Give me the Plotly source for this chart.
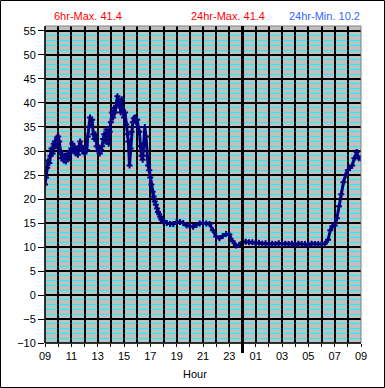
import plotly.graph_objects as go

# hours elapsed since 09:00
hours = [0.00, 0.08, 0.17, 0.25, 0.33, 0.42, 0.50, 0.58, 0.67, 0.75, 0.83, 0.92,
         1.00, 1.08, 1.17, 1.25, 1.33, 1.42, 1.50, 1.58, 1.67, 1.75, 1.83, 1.92,
         2.00, 2.08, 2.17, 2.25, 2.33, 2.42, 2.50, 2.58, 2.67, 2.75, 2.83, 2.92,
         3.00, 3.08, 3.17, 3.25, 3.33, 3.42, 3.50, 3.58, 3.67, 3.75, 3.83, 3.92,
         4.00, 4.08, 4.17, 4.25, 4.33, 4.42, 4.50, 4.58, 4.67, 4.75, 4.83, 4.92,
         5.00, 5.08, 5.17, 5.25, 5.33, 5.42, 5.50, 5.58, 5.67, 5.75, 5.83, 5.92,
         6.00, 6.08, 6.17, 6.25, 6.33, 6.42, 6.50, 6.58, 6.67, 6.75, 6.83, 6.92,
         7.00, 7.08, 7.17, 7.25, 7.33, 7.42, 7.50, 7.58, 7.67, 7.75, 7.83, 7.92,
         8.00, 8.08, 8.17, 8.25, 8.33, 8.42, 8.50, 8.58, 8.67, 8.75, 8.83, 8.92,
         9.00, 9.25, 9.50, 9.75, 10.00, 10.25, 10.50, 10.75, 11.00, 11.25, 11.50, 11.75,
         12.00, 12.25, 12.50, 12.75, 13.00, 13.25, 13.50, 13.75, 14.00, 14.25, 14.50, 14.75,
         15.00, 15.25, 15.50, 15.75, 16.00, 16.25, 16.50, 16.75, 17.00, 17.25, 17.50, 17.75,
         18.00, 18.25, 18.50, 18.75, 19.00, 19.25, 19.50, 19.75, 20.00, 20.25, 20.50, 20.75,
         21.00, 21.25, 21.50, 21.67, 21.83, 22.00, 22.17, 22.33, 22.50, 22.67, 22.83,
         23.00, 23.17, 23.33, 23.50, 23.67, 23.83, 24.00]

temps = [23.0, 24.5, 26.5, 28.0, 27.5, 29.0, 30.5, 29.5, 31.5, 32.0, 31.0, 32.8,
         33.0, 32.0, 30.0, 28.5, 29.2, 28.0, 29.0, 27.8, 28.5, 29.5, 28.5, 29.8,
         30.5, 31.5, 30.0, 30.8, 29.5, 30.0, 29.2, 31.0, 32.0, 31.0, 30.0, 30.5,
         29.5, 31.0, 30.2, 33.0, 35.0, 37.0, 35.5, 36.5, 33.5, 32.5, 33.5, 31.0,
         30.0, 30.8, 29.5, 30.2, 31.0, 32.5, 33.5, 32.0, 34.5, 33.0, 31.5, 34.0,
         36.0, 38.0, 37.0, 39.0, 38.0, 40.0, 41.4, 39.5, 40.5, 38.0, 40.8, 38.5,
         37.0, 38.0, 35.5, 33.5, 32.0, 27.0, 30.5, 34.0, 36.0, 36.8, 37.0, 36.0,
         36.5, 35.0, 34.0, 31.0, 29.0, 28.2, 31.5, 35.0, 33.0, 29.0, 27.0, 26.0,
         24.5, 23.0, 21.5, 20.5, 19.5, 18.8, 18.0, 17.3, 16.8, 16.3, 15.8, 15.5,
         15.3, 15.0, 14.8, 14.8, 15.2, 15.2, 15.0, 14.5, 14.3, 14.2, 14.6, 14.9,
         15.0, 14.9, 14.8, 13.5, 12.2, 11.8, 12.3, 12.7, 12.6, 11.2, 10.3, 10.4,
         11.0, 11.1, 11.0, 11.0, 10.8, 10.9, 10.7, 10.8, 10.6, 10.7, 10.6, 10.8,
         10.6, 10.7, 10.6, 10.7, 10.5, 10.7, 10.6, 10.6, 10.5, 10.7, 10.6, 10.6,
         10.6, 10.7, 11.5, 13.5, 14.3, 14.5, 16.0, 18.5, 21.0, 23.5, 25.0,
         26.0, 26.5, 27.0, 28.5, 29.8, 28.5, 28.5]

tick_hours = list(range(0, 25))
tick_labels = ["09", "", "11", "", "13", "", "15", "", "17", "", "19", "", "21", "",
               "23", "", "01", "", "03", "", "05", "", "07", "", "09"]

header_texts = ["6hr-Max. 41.4", "24hr-Max. 41.4", "24hr-Min. 10.2"]
header_colors = ["#FF0000", "#FF0000", "#3366FF"]
header_xpx = [87.5, 228, 324]

W, H = 385, 388
L, R, T, B = 45, 24, 26, 45
pw, ph = W - L - R, H - T - B

def px_x(x):
    return (x - L) / pw

def px_y(y):
    return (H - B - y) / ph

fig = go.Figure()
fig.add_trace(go.Scatter(
    x=hours, y=temps, mode="lines+markers",
    line=dict(color="#000080", width=3),
    marker=dict(symbol="cross", size=5, color="#000080"),
    hoverinfo="skip", showlegend=False))

font = dict(family="Liberation Sans, Arial, sans-serif", size=11, color="black")

fig.update_layout(
    width=W, height=H,
    margin=dict(l=L, r=R, t=T, b=B),
    paper_bgcolor="white", plot_bgcolor="#C0C0C0",
    font=font,
    xaxis=dict(range=[0, 24], tickmode="array", tickvals=tick_hours, ticktext=tick_labels,
               showgrid=True, gridcolor="black", gridwidth=1.5, zeroline=False,
               ticks="outside", ticklen=3, tickcolor="black", tickwidth=1,
               showline=False, tickfont=font, fixedrange=True),
    yaxis=dict(range=[-10, 56.04], tickmode="linear", tick0=-10, dtick=5,
               showgrid=True, gridcolor="black", gridwidth=1.5, zeroline=False,
               ticks="outside", ticklen=6, tickcolor="black", tickwidth=1,
               showline=False, tickfont=font,
               minor=dict(dtick=1, tick0=0, showgrid=True, gridcolor="#00FFFF",
                          gridwidth=1, ticks=""),
               fixedrange=True),
)

shapes = [
    # plot frame
    dict(type="rect", xref="paper", yref="paper", x0=0, x1=1, y0=0, y1=1,
         line=dict(color="#808080", width=1), layer="above"),
    dict(type="line", xref="paper", yref="paper", x0=0, x1=0, y0=0, y1=1,
         line=dict(color="black", width=1.5), layer="above"),
    dict(type="line", xref="paper", yref="paper", x0=0, x1=1, y0=0, y1=0,
         line=dict(color="black", width=1.5), layer="above"),
    # midnight marker
    dict(type="line", xref="x", yref="paper", x0=15, x1=15, y0=px_y(353), y1=1,
         line=dict(color="black", width=3), layer="above"),
    # outer border
    dict(type="rect", xref="paper", yref="paper",
         x0=px_x(0.5), x1=px_x(W - 0.5), y0=px_y(H - 0.5), y1=px_y(0.5),
         line=dict(color="black", width=1), layer="above"),
]
fig.update_layout(shapes=shapes)

annotations = []
for t, c, xp in zip(header_texts, header_colors, header_xpx):
    annotations.append(dict(text=t, xref="paper", yref="paper", x=px_x(xp), y=px_y(16),
                            xanchor="center", yanchor="middle", showarrow=False,
                            font=dict(family=font["family"], size=11, color=c)))
annotations.append(dict(text="Hour", xref="paper", yref="paper", x=px_x(195), y=px_y(374),
                        xanchor="center", yanchor="middle", showarrow=False,
                        font=font))
fig.update_layout(annotations=annotations)

fig.write_html("out.html", config={"displayModeBar": False},
               post_script="document.body.style.margin='0';document.body.style.overflow='hidden';")
